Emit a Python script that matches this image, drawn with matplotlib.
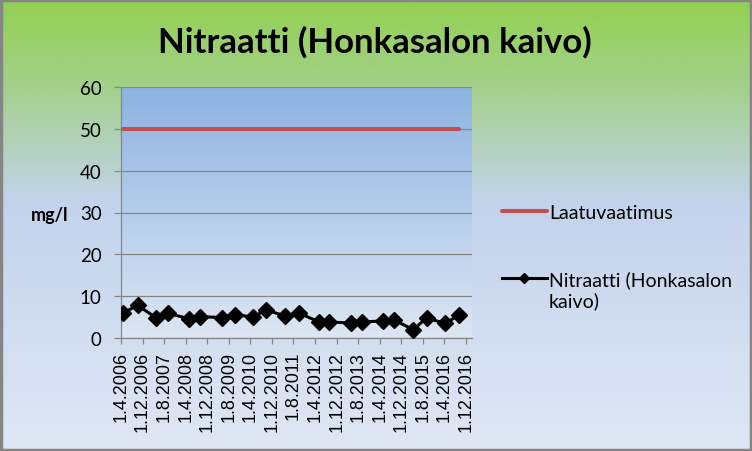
import matplotlib
matplotlib.use("Agg")
import matplotlib.pyplot as plt
import matplotlib.dates as mdates
from matplotlib.colors import LinearSegmentedColormap
from matplotlib.patches import Rectangle
from matplotlib.lines import Line2D
from matplotlib.legend_handler import HandlerLine2D
from datetime import datetime
import numpy as np

# ---------------- data ----------------
title = "Nitraatti (Honkasalon kaivo)"
y_label = "mg/l"
series_limit = "Laatuvaatimus"
series_nitrate = "Nitraatti (Honkasalon\nkaivo)"

sample_dates = ["25.4.2006", "6.10.2006", "6.5.2007", "18.9.2007", "6.5.2008",
                "10.9.2008", "13.5.2009", "10.10.2009", "4.5.2010", "22.9.2010",
                "28.4.2011", "1.10.2011", "18.5.2012", "10.9.2012", "10.5.2013",
                "10.9.2013", "4.5.2014", "10.9.2014", "16.4.2015", "13.9.2015",
                "6.4.2016", "13.9.2016"]
nitrate_values = [6.0, 7.8, 4.8, 5.9, 4.6, 5.1, 4.9, 5.6, 5.0, 6.7, 5.3,
                  6.0, 3.8, 3.8, 3.6, 3.8, 4.1, 4.3, 2.0, 4.8, 3.5, 5.4]
limit_value = 50

x_tick_labels = ["1.4.2006", "1.12.2006", "1.8.2007", "1.4.2008", "1.12.2008",
                 "1.8.2009", "1.4.2010", "1.12.2010", "1.8.2011", "1.4.2012",
                 "1.12.2012", "1.8.2013", "1.4.2014", "1.12.2014", "1.8.2015",
                 "1.4.2016", "1.12.2016"]
y_ticks = [0, 10, 20, 30, 40, 50, 60]

# ---------------- helpers ----------------
def parse(s):
    return datetime.strptime(s, "%d.%m.%Y")

dates = [parse(s) for s in sample_dates]
tick_dates = [parse(s) for s in x_tick_labels]

FONT = "Lato"
W, H = 752, 452
fig = plt.figure(figsize=(W / 100, H / 100), dpi=100)

# figure background gradient
bg = fig.add_axes([0, 0, 1, 1], zorder=-10)
bg_cmap = LinearSegmentedColormap.from_list(
    "bg", [(0.0, "#92D050"), (0.2, "#A4D08E"), (0.45, "#C3D3EC"), (1.0, "#DFE7F4")])
grad = np.linspace(0, 1, 256).reshape(-1, 1)
bg.imshow(grad, cmap=bg_cmap, aspect="auto", extent=[0, 1, 0, 1], origin="upper")
bg.set_xlim(0, 1)
bg.set_ylim(0, 1)
bg.axis("off")
fig.patches.append(Rectangle((0.0015, 0.0025), 0.997, 0.995, transform=fig.transFigure,
                             fill=False, edgecolor="#858585", linewidth=2.5, zorder=5))

# plot axes
ax = fig.add_axes([121 / W, 1 - 339 / H, 351 / W, 251 / H])
ax.patch.set_alpha(0)
pa_cmap = LinearSegmentedColormap.from_list("pa", ["#8DB3E2", "#DDE6F2"])
ax.imshow(grad, cmap=pa_cmap, aspect="auto", extent=[0, 1, 0, 1], origin="upper",
          transform=ax.transAxes, zorder=0)

ax.plot(dates, np.full(len(dates), limit_value), color="#C0504D", lw=2.9,
        solid_capstyle="round", zorder=3, label=series_limit)
ax.plot(dates, nitrate_values, color="black", lw=2.2, marker="D", ms=8.6,
        zorder=4, label=series_nitrate)

ax.set_ylim(0, 60)
ax.set_yticks(y_ticks)
ax.set_xlim(tick_dates[0], datetime(2017, 2, 7))
ax.set_xticks(tick_dates)
ax.set_xticklabels(x_tick_labels, rotation=90, fontfamily="Liberation Sans", fontsize=13)
for lab in ax.get_yticklabels():
    lab.set_fontfamily(FONT)
    lab.set_fontsize(13.5)

ax.grid(axis="y", color="#868686", lw=0.9, zorder=1)
ax.set_axisbelow(True)
for s in ["top", "right"]:
    ax.spines[s].set_visible(False)
for s in ["left", "bottom"]:
    ax.spines[s].set_color("#868686")
    ax.spines[s].set_linewidth(0.9)
    ax.spines[s].set_zorder(2)
ax.tick_params(axis="y", direction="out", length=5, width=0.9, color="#868686", pad=9)
ax.tick_params(axis="x", direction="out", length=4.3, width=0.9, color="#868686", pad=5)

# title and y label
fig.text(375 / W, 1 - 42 / H, title, ha="center", va="center", fontsize=25,
         fontweight="bold", fontfamily=FONT)
fig.text(50 / W, 1 - 216 / H, y_label, ha="center", va="center", fontsize=13,
         fontweight="bold", fontfamily=FONT)


class ShiftedHandler(HandlerLine2D):
    def __init__(self, shift=0.0, **kw):
        super().__init__(**kw)
        self.shift = shift

    def create_artists(self, legend, orig_handle, xdescent, ydescent, width, height,
                       fontsize, trans):
        return super().create_artists(legend, orig_handle, xdescent,
                                      ydescent - self.shift * fontsize, width, height,
                                      fontsize, trans)


h_limit, h_nit = ax.get_lines()
leg = ax.legend(handles=[h_limit, h_nit], loc="upper left",
                bbox_to_anchor=(502 / W, 1 - 205 / H), bbox_transform=fig.transFigure,
                frameon=False, borderpad=0, borderaxespad=0, handlelength=2.3,
                handletextpad=0.12, labelspacing=2.55, markerscale=0.55,
                prop={"family": FONT, "size": 14},
                handler_map={h_nit: ShiftedHandler(shift=1.25)})

fig.savefig("out.png", dpi=100)
